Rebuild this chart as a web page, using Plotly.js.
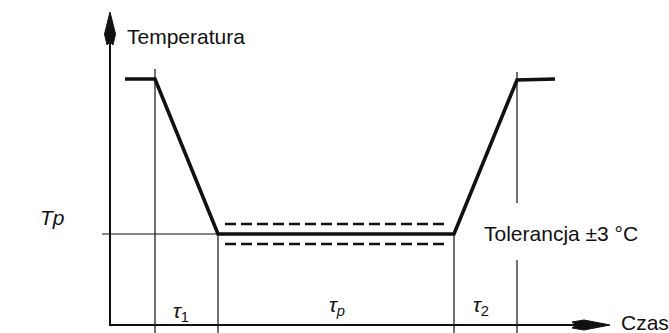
<!DOCTYPE html>
<html>
<head>
<meta charset="utf-8">
<script src="https://cdn.plot.ly/plotly-3.0.1.min.js"></script>
<style>
  html, body { margin: 0; padding: 0; background: #fff; }
  #wykres { width: 669px; height: 333px; }
</style>
</head>
<body>
<div id="wykres"></div>
<script>
// czas (os x) i temperatura (os y) w umownych jednostkach rysunku
var profilCzas = [15, 45, 108, 344, 407, 445];
var profilTemp = [246, 246, 91, 91, 245, 246];

var Tp = 91;
var tolGora = 101;
var tolDol = 81;
var tolCzas = [115, 338];

// pionowe linie pomocnicze: czas, poczatek, koniec
var pionCzas = [45, 108, 344, 407, 407];
var pionOd = [-8, -8, -8, -8, 122];
var pionDo = [256, 91, 91, 65, 253];

var tpLiniaCzas = [-8, 344];

var tauEtykiety = ['<i>τ</i><sub>1</sub>', '<i>τ<sub>p</sub></i>', '<i>τ</i><sub>2</sub>'];
var tauCzas = [71, 227, 371];
var tauTemp = [13, 19, 19];

var osCzasKoniec = 500;
var osTempKoniec = 313;

var pionX = [], pionY = [];
for (var i = 0; i < pionCzas.length; i++) {
  pionX.push(pionCzas[i], pionCzas[i], null);
  pionY.push(pionOd[i], pionDo[i], null);
}

// groty strzalek na koncach osi (waskie, wypelnione)
var grotY = {
  x: [0, -5.5, -3, 0, 3, 5.5, 0],
  y: [osTempKoniec, osTempKoniec - 22, osTempKoniec - 33, osTempKoniec - 30,
      osTempKoniec - 33, osTempKoniec - 22, osTempKoniec]
};
var grotX = {
  x: [osCzasKoniec, osCzasKoniec - 26, osCzasKoniec - 38, osCzasKoniec - 34,
      osCzasKoniec - 38, osCzasKoniec - 26, osCzasKoniec],
  y: [0, 5, 3, 0, -3, -5, 0]
};

var cienka = {color: '#111', width: 1.2};
var przerywana = {color: '#111', width: 2.6, dash: '11px,5px'};

var data = [
  {x: pionX, y: pionY, mode: 'lines', line: cienka},
  {x: tpLiniaCzas, y: [Tp, Tp], mode: 'lines', line: cienka},
  {x: tolCzas, y: [tolGora, tolGora], mode: 'lines', line: przerywana},
  {x: tolCzas, y: [tolDol, tolDol], mode: 'lines', line: przerywana},
  {x: [0, 0, osCzasKoniec - 20], y: [osTempKoniec - 20, 0, 0], mode: 'lines',
   line: {color: '#111', width: 2}},
  {x: grotY.x, y: grotY.y, mode: 'lines', fill: 'toself', fillcolor: '#111',
   line: {color: '#111', width: 1}},
  {x: grotX.x, y: grotX.y, mode: 'lines', fill: 'toself', fillcolor: '#111',
   line: {color: '#111', width: 1}},
  {x: profilCzas, y: profilTemp, mode: 'lines',
   line: {color: '#111', width: 3.6}}
];

var txt = {family: 'Liberation Sans, Arial, sans-serif', size: 21, color: '#111'};

var annotations = [
  {x: 15, y: 289, text: 'Temperatura', showarrow: false, xanchor: 'left', font: txt},
  {x: 509, y: 3, text: 'Czas', showarrow: false, xanchor: 'left', font: txt},
  {x: 372, y: 92, text: 'Tolerancja ±3 °C', showarrow: false, xanchor: 'left', font: txt},
  {x: -72, y: 108, text: '<i>Tp</i>', showarrow: false, xanchor: 'left', font: txt}
];
for (var k = 0; k < tauEtykiety.length; k++) {
  annotations.push({x: tauCzas[k], y: tauTemp[k], text: tauEtykiety[k],
    showarrow: false, font: txt});
}

var layout = {
  width: 669, height: 333,
  margin: {l: 0, r: 0, t: 0, b: 0},
  paper_bgcolor: '#fff', plot_bgcolor: '#fff',
  showlegend: false,
  xaxis: {range: [-110, 559], visible: false, fixedrange: true},
  yaxis: {range: [-8, 325], visible: false, fixedrange: true},
  annotations: annotations
};

Plotly.newPlot('wykres', data, layout, {staticPlot: true});
</script>
</body>
</html>
